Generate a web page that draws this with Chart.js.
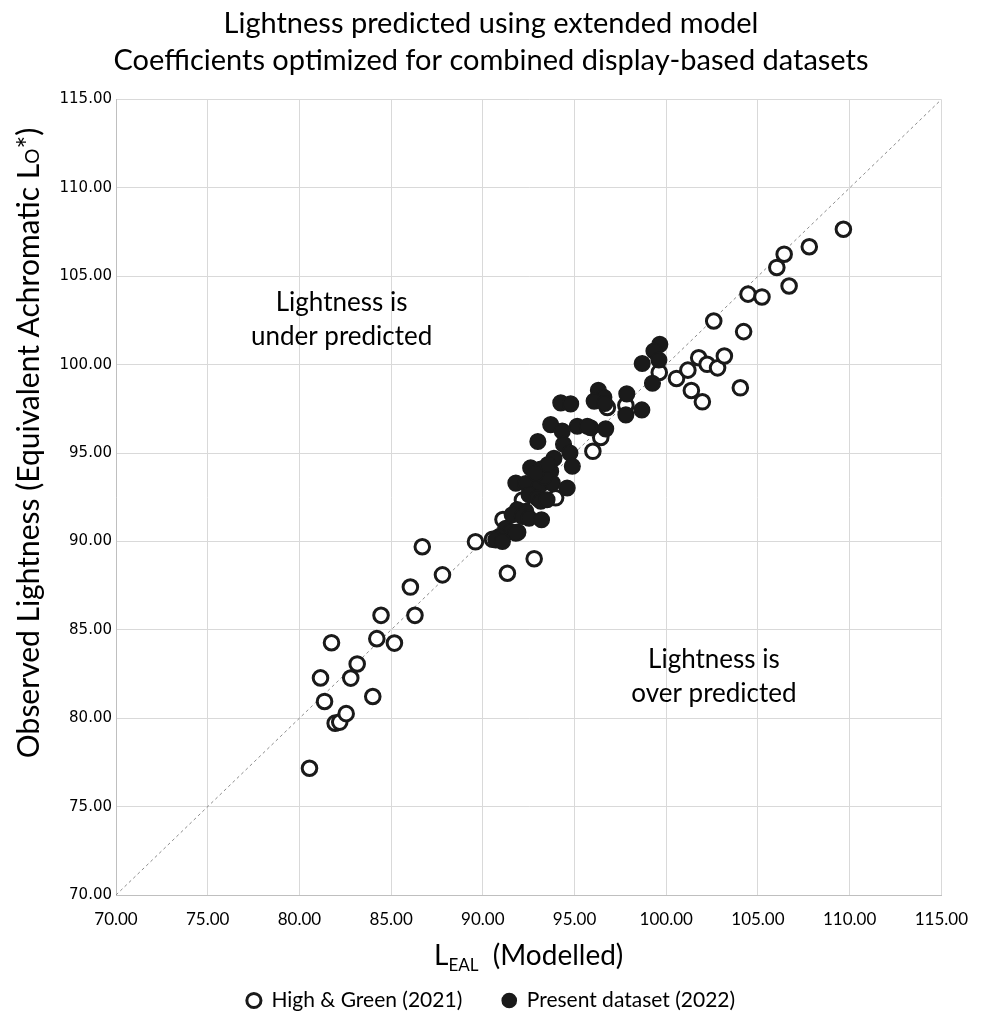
<!DOCTYPE html>
<html>
<head>
<meta charset="utf-8">
<script src="https://cdn.jsdelivr.net/npm/chart.js@4.4.1/dist/chart.umd.min.js"></script>
<style>
  body { margin: 0; background: #fff; }
  #wrap { width: 982px; height: 1021px; }
</style>
</head>
<body>
<div id="wrap"><canvas id="lightnessChart" width="982" height="1021"></canvas></div>
<script>
// High & Green (2021) - open markers
const hgX = [80.55, 81.75, 81.15, 81.37, 81.95, 82.2, 82.55, 82.8, 83.15, 84.0, 84.22, 84.45, 85.18, 86.3, 86.05, 86.7,
  87.8, 89.6, 90.53, 91.1, 91.34, 91.9, 92.8, 92.16, 93.97, 96.0, 96.43, 96.79, 97.8, 99.62, 100.56, 101.18,
  101.37, 101.77, 101.97, 102.23, 102.8, 103.17, 102.59, 104.04, 104.22, 104.46, 105.22, 106.03, 106.43, 106.7,
  107.8, 109.66];
const hgY = [77.17, 84.27, 82.28, 80.95, 79.72, 79.78, 80.26, 82.27, 83.07, 81.23, 84.5, 85.82, 84.25, 85.82, 87.42, 89.7,
  88.11, 89.98, 90.12, 91.24, 88.2, 90.52, 89.02, 92.34, 92.47, 95.1, 95.88, 97.58, 97.7, 99.56, 99.22, 99.69,
  98.54, 100.39, 97.9, 100.02, 99.82, 100.49, 102.47, 98.69, 101.87, 103.99, 103.83, 105.5, 106.25, 104.45,
  106.67, 107.66];

// Present dataset (2022) - filled markers
const presentX = [99.65, 99.33, 99.6, 98.69, 99.25, 97.85, 97.8, 98.67, 96.3, 96.6, 96.07, 96.65, 94.25, 94.79, 95.88,
  96.7, 93.7, 95.15, 95.7, 94.33, 93.0, 94.4, 94.75, 94.88, 93.88, 92.61, 93.16, 93.7, 91.8, 92.34, 93.07, 93.79,
  94.6, 92.52, 92.97, 93.16, 93.5, 91.88, 92.34, 91.6, 92.16, 92.52, 93.2, 91.25, 91.52, 91.8, 90.89, 90.71, 91.07,
  93.35, 92.9, 93.55];
const presentY = [101.15, 100.77, 100.26, 100.07, 98.95, 98.35, 97.16, 97.44, 98.55, 98.15, 97.94, 97.8, 97.84, 97.78, 96.43,
  96.37, 96.61, 96.52, 96.52, 96.24, 95.65, 95.5, 95.0, 94.25, 94.7, 94.16, 94.1, 93.97, 93.3, 93.28, 93.12, 93.3,
  93.02, 92.65, 92.45, 92.27, 92.36, 91.8, 91.7, 91.51, 91.42, 91.32, 91.23, 90.75, 90.56, 90.47, 90.28, 90.09, 90.0,
  93.65, 93.85, 94.35];

// 1:1 reference line
const diagonal = [70, 115];

const axisMin = 70;
const axisMax = 115;
const axisStep = 5;

const seriesNames = ['High & Green (2021)', 'Present dataset (2022)'];

const notes = [
  { x: 82.3, y: 102.55, lines: ['Lightness is', 'under predicted'] },
  { x: 102.6, y: 82.35, lines: ['Lightness is', 'over predicted'] },
];

const toPoints = (xs, ys) => xs.map((v, i) => ({ x: v, y: ys[i] }));

const FONT = 'Lato, "Noto Sans", sans-serif';
const INK = '#1a1a1a';

// titles that chart.js can't do natively (subscripts)
const textPlugin = {
  id: 'extraText',
  afterDraw(chart) {
    const { ctx, chartArea, scales } = chart;
    const xs = scales.x;
    const ys = scales.y;
    ctx.save();
    ctx.fillStyle = '#000';

    // region notes
    ctx.font = '26px ' + FONT;
    ctx.textAlign = 'center';
    ctx.textBaseline = 'middle';
    notes.forEach(n => {
      const px = xs.getPixelForValue(n.x);
      const py = ys.getPixelForValue(n.y);
      ctx.fillText(n.lines[0], px, py - 17);
      ctx.fillText(n.lines[1], px, py + 17);
    });

    // x axis title: L_EAL (Modelled)
    ctx.textAlign = 'left';
    ctx.textBaseline = 'alphabetic';
    const big = '28px ' + FONT;
    const small = '17px ' + FONT;
    ctx.font = big;
    const wL = ctx.measureText('L').width;
    const wRest = ctx.measureText('  (Modelled)').width;
    ctx.font = small;
    const wSub = ctx.measureText('EAL').width;
    let cx = (chartArea.left + chartArea.right) / 2 - (wL + wSub + wRest) / 2;
    const base = chartArea.bottom + 70;
    ctx.font = big;
    ctx.fillText('L', cx, base);
    cx += wL;
    ctx.font = small;
    ctx.fillText('EAL', cx, base + 6);
    cx += wSub;
    ctx.font = big;
    ctx.fillText('  (Modelled)', cx, base);

    // y axis title, rotated
    const parts = [
      ['Observed Lightness (Equivalent Achromatic L', '30px ' + FONT],
      ['O', '19px ' + FONT],
      ['*)', '30px ' + FONT],
    ];
    let total = 0;
    parts.forEach(p => { ctx.font = p[1]; total += ctx.measureText(p[0]).width; });
    ctx.translate(39, 443);
    ctx.rotate(-Math.PI / 2);
    let tx = -total / 2;
    parts.forEach(p => {
      ctx.font = p[1];
      ctx.fillText(p[0], tx, 0);
      tx += ctx.measureText(p[0]).width;
    });
    ctx.restore();
  }
};

const config = {
  type: 'scatter',
  data: {
    datasets: [
      {
        label: '1:1',
        data: toPoints(diagonal, diagonal),
        showLine: true,
        borderColor: '#8c8c8c',
        borderWidth: 1,
        borderDash: [3, 3],
        pointRadius: 0,
        order: 3,
      },
      {
        label: seriesNames[0],
        data: toPoints(hgX, hgY),
        pointRadius: 7.3,
        pointBorderWidth: 3,
        borderWidth: 3,
        borderColor: INK,
        backgroundColor: '#ffffff',
        pointBackgroundColor: '#ffffff',
        pointBorderColor: INK,
        order: 2,
      },
      {
        label: seriesNames[1],
        data: toPoints(presentX, presentY),
        pointRadius: 7.8,
        pointBorderWidth: 1.5,
        borderWidth: 1.5,
        borderColor: INK,
        backgroundColor: INK,
        pointBackgroundColor: INK,
        pointBorderColor: INK,
        order: 1,
      },
    ],
  },
  options: {
    responsive: false,
    animation: false,
    layout: { padding: 0 },
    plugins: {
      tooltip: { enabled: false },
      title: {
        display: true,
        text: ['Lightness predicted using extended model', 'Coefficients optimized for combined display-based datasets'],
        color: '#000',
        font: { family: FONT, size: 29, weight: 'normal', lineHeight: 1.25 },
        padding: { top: 6, bottom: 21 },
      },
      legend: {
        position: 'bottom',
        labels: {
          usePointStyle: true,
          pointStyle: 'circle',
          boxWidth: 14,
          boxHeight: 10,
          padding: 40,
          color: '#000',
          font: { family: FONT, size: 21 },
          filter: item => item.datasetIndex !== 0,
          sort: (a, b) => a.datasetIndex - b.datasetIndex,
        },
      },
    },
    scales: {
      x: {
        type: 'linear',
        min: axisMin,
        max: axisMax,
        ticks: {
          stepSize: axisStep,
          padding: 14,
          color: '#000',
          font: { family: FONT, size: 17 },
          callback: v => v.toFixed(2),
        },
        grid: { color: '#d9d9d9', drawTicks: false },
        border: { color: '#bfbfbf' },
        afterFit(s) { s.height = 55; },
      },
      y: {
        type: 'linear',
        min: axisMin,
        max: axisMax,
        ticks: {
          stepSize: axisStep,
          padding: 4,
          color: '#000',
          font: { family: '"DejaVu Sans", sans-serif', size: 15 },
          callback: v => v.toFixed(2),
        },
        grid: { color: '#d9d9d9', drawTicks: false },
        border: { color: '#bfbfbf' },
        afterFit(s) { s.width = 116; },
      },
      // empty right-hand spacer so the plot ends where the reference does
      yRight: {
        type: 'linear',
        position: 'right',
        min: axisMin,
        max: axisMax,
        ticks: { display: false },
        grid: { display: false, drawTicks: false },
        border: { display: false },
        afterFit(s) { s.width = 39; },
      },
    },
  },
  plugins: [textPlugin],
};

const lightnessChart = new Chart(document.getElementById('lightnessChart'), config);
</script>
</body>
</html>
